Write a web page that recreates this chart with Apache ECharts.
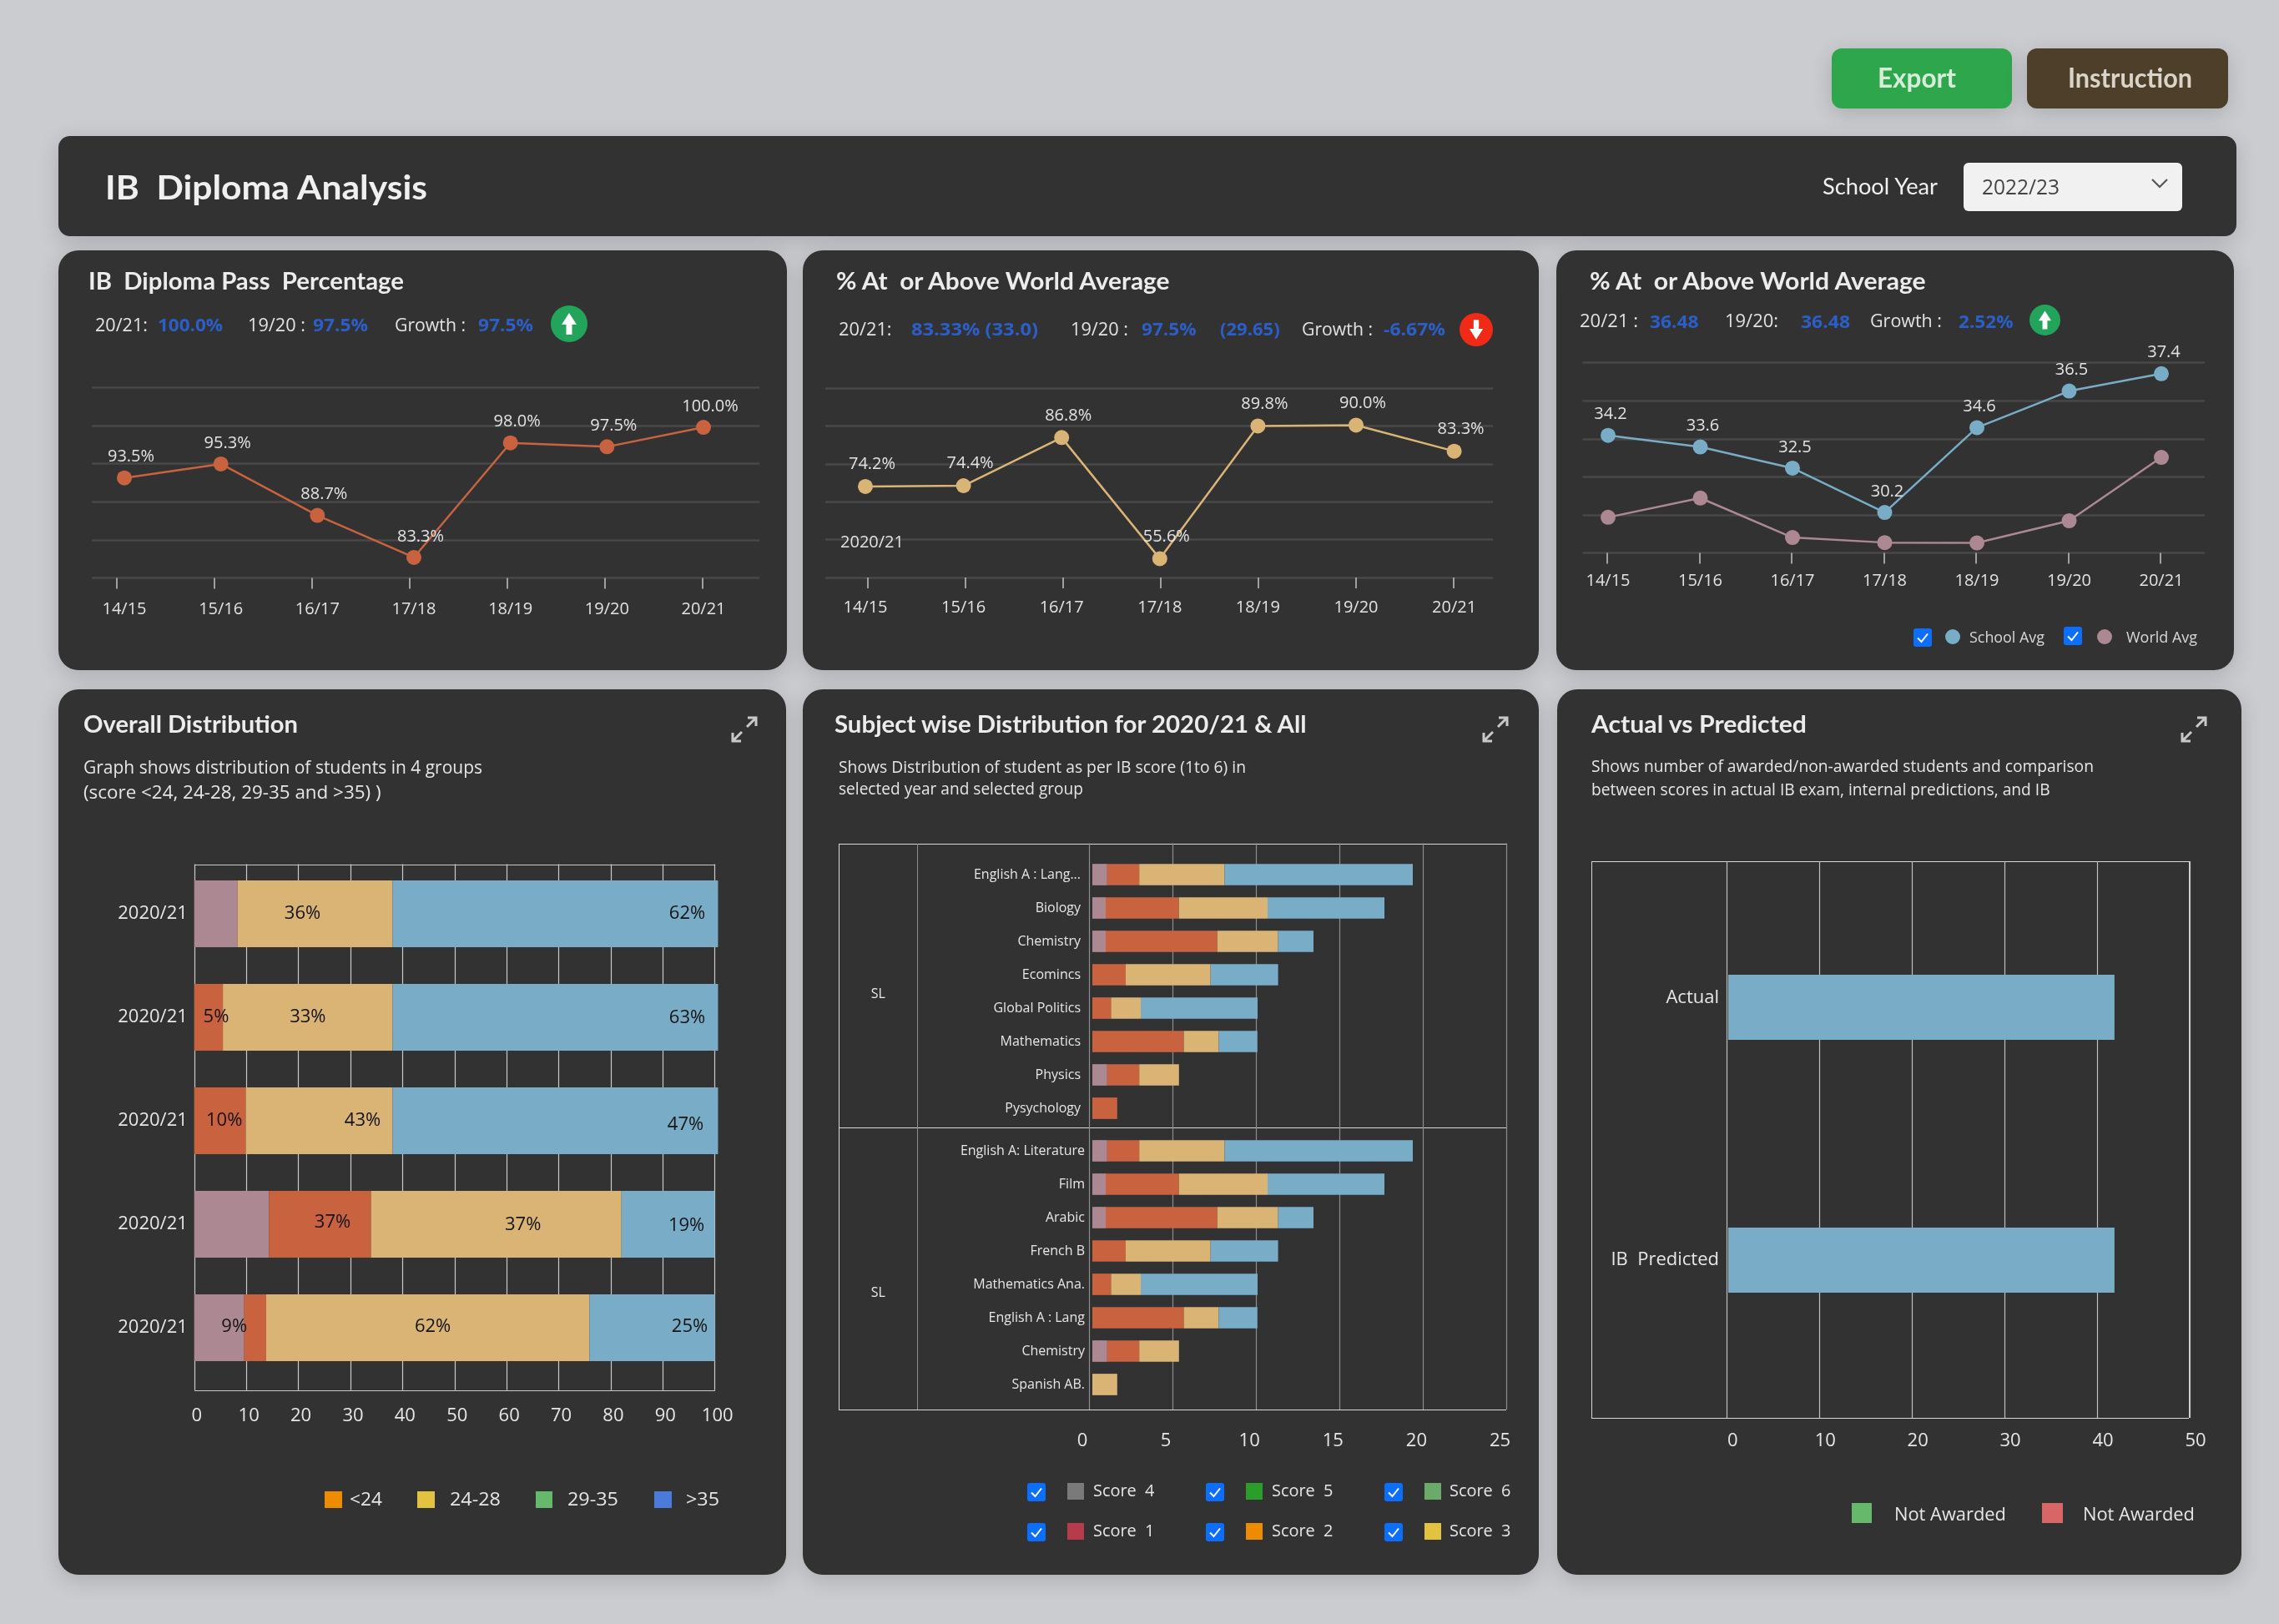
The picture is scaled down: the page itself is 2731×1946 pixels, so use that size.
<!DOCTYPE html>
<html>
<head>
<meta charset="utf-8">
<title>IB Diploma Analysis</title>
<script src="https://cdn.jsdelivr.net/npm/echarts@6/dist/echarts.min.js"></script>
<style>
html,body{margin:0;padding:0;width:2731px;height:1946px;overflow:hidden;background:#cbccd0;font-family:"Open Sans",sans-serif}
.box{position:absolute;background:#323232;box-shadow:0 6px 26px rgba(0,0,0,.16)}
.ln{position:absolute;background:#c4c4c4}
.t{position:absolute;white-space:pre;transform-origin:left center;line-height:1}
#chart{position:absolute;left:0;top:0;width:2731px;height:1946px;z-index:5}
svg.ic{position:absolute;overflow:visible}
</style>
</head>
<body>
<div id="chart"></div>
<script>
// ---------- chart values ----------
const yearLabels = ['14/15','15/16','16/17','17/18','18/19','19/20','20/21'];
const passPercent = [93.5,95.3,88.7,83.3,98.0,97.5,100.0];
const worldAvgPercent = [74.2,74.4,86.8,55.6,89.8,90.0,83.3];
const schoolAvg = [34.2,33.6,32.5,30.2,34.6,36.5,37.4];
const worldAvg = [29.95,30.95,28.9,28.64,28.62,29.77,33.06];

const overallYears = ['2020/21','2020/21','2020/21','2020/21','2020/21'];
const below24 = [8.3,0,0,14.35,9.6];
const from24to28 = [0,5.5,9.9,19.6,4.2];
const from29to35 = [29.8,32.6,28.2,48.1,62.1];
const above35 = [62.5,62.5,62.5,17.9,24.1];
const below24Text = ['','','','','9%'];
const from24to28Text = ['','5%','10%','37%',''];
const from29to35Text = ['36%','33%','43%','37%','62%'];
const above35Text = ['62%','63%','47%','19%','25%'];

const subjectsTop = ['English A : Lang...','Biology','Chemistry','Ecomincs','Global Politics','Mathematics','Physics','Pysychology'];
const subjectsBottom = ['English A: Literature','Film','Arabic','French B','Mathematics Ana.','English A : Lang','Chemistry','Spanish AB.'];
const topScoreA = [0.89,0.8,0.8,0,0,0,0.89,0];
const topScoreB = [1.92,4.39,6.69,2.0,1.12,5.48,1.92,1.49];
const topScoreC = [5.11,5.31,3.64,5.08,1.78,2.09,2.38,0];
const topScoreD = [11.28,7.0,2.12,4.05,7.0,2.32,0,0];
const bottomScoreA = [0.89,0.8,0.8,0,0,0,0.89,0];
const bottomScoreB = [1.92,4.39,6.69,2.0,1.12,5.48,1.92,0];
const bottomScoreC = [5.11,5.31,3.64,5.08,1.78,2.09,2.38,1.49];
const bottomScoreD = [11.28,7.0,2.12,4.05,7.0,2.32,0,0];

const actualCategories = ['Actual','IB  Predicted'];
const actualValues = [41.7,41.7];

// ---------- palette and styles ----------
const MAUVE='#ac8892', ORANGE='#c9623f', TAN='#d9b474', BLUE='#79adc7';
const FONT='"Open Sans",sans-serif', TITLEFONT='Lato,"Open Sans",sans-serif';
const grids=[], xAxes=[], yAxes=[], seriesList=[];
function addGrid(g,x,y){grids.push(g);x.gridIndex=grids.length-1;y.gridIndex=grids.length-1;xAxes.push(x);yAxes.push(y);return grids.length-1;}
const hidden=(o)=>Object.assign({show:false},o);

// line chart: light guide lines, a tick ruler and the data plot
function linePanel(c){
  addGrid({left:c.gridX0,top:c.top,width:c.gridX1-c.gridX0,height:c.bottom-c.top},
    hidden({type:'value',min:0,max:1}),
    {type:'value',min:0,max:5,interval:1,axisLabel:{show:false},axisLine:{show:false},axisTick:{show:false},
     splitLine:{show:true,lineStyle:{color:'#484848',width:2.5}}});
  addGrid({left:c.tick0,top:c.bottom-1,width:c.tick6-c.tick0,height:1},
    {type:'category',boundaryGap:false,data:yearLabels,axisLabel:{show:false},axisLine:{show:false},
     axisTick:{show:true,length:13,interval:0,lineStyle:{color:'#a0a0a0',width:2}}},
    hidden({type:'value',min:0,max:1}));
  const g=addGrid({left:c.pt0,top:c.top,width:c.pt6-c.pt0,height:c.bottom-c.top},
    {type:'category',boundaryGap:false,data:yearLabels,axisLine:{show:false},axisTick:{show:false},
     axisLabel:{show:true,interval:0,color:'#e2e2e2',fontSize:20,fontFamily:FONT,margin:c.labelMargin}},
    hidden({type:'value',min:c.yMin,max:c.yMax}));
  c.series.forEach(s=>seriesList.push({
    type:'line',name:s.name,xAxisIndex:g,yAxisIndex:g,data:s.data,symbol:'circle',symbolSize:18,
    lineStyle:{color:s.color,width:2.5},itemStyle:{color:s.color},
    label:{show:!!s.fmt,position:'top',offset:c.labelOffset,color:'#e2e2e2',fontSize:20,fontFamily:FONT,formatter:s.fmt}
  }));
}
linePanel({gridX0:110,gridX1:910,top:464.4,bottom:692.5,tick0:140,tick6:842,pt0:149,pt6:843,yMin:80.67,yMax:105.1,labelOffset:[8,-1],labelMargin:28,
  series:[{name:'Pass %',data:passPercent,color:ORANGE,fmt:p=>p.value.toFixed(1)+'%'}]});
linePanel({gridX0:989,gridX1:1789,top:465,bottom:692,tick0:1040,tick6:1742,pt0:1037,pt6:1742.6,yMin:50.74,yMax:99.57,labelOffset:[8,-2.5],labelMargin:26,
  series:[{name:'% At or Above World Average',data:worldAvgPercent,color:TAN,fmt:p=>p.value.toFixed(1)+'%'}]});
linePanel({gridX0:1896.5,gridX1:2642,top:434.6,bottom:662.6,tick0:1926,tick6:2589,pt0:1927,pt6:2590,yMin:28.1,yMax:37.97,labelOffset:[3,-1],labelMargin:24,
  series:[{name:'School Avg',data:schoolAvg,color:BLUE,fmt:p=>p.value.toFixed(1)},
          {name:'World Avg',data:worldAvg,color:MAUVE}]});

// value-axis frame used by the bar charts
function frame(left,top,width,height,max,interval,fontSize,labelPad,margin,lineColor){
  addGrid({left,top,width,height},
    {type:'value',min:0,max,interval,axisTick:{show:false},axisLine:{show:false},
     splitLine:{show:true,lineStyle:{color:lineColor,width:1.2}},
     axisLabel:{show:true,color:'#e6e6e6',fontSize,fontFamily:FONT,margin,padding:labelPad,showMinLabel:true,showMaxLabel:true}},
    hidden({type:'value',min:0,max:1}));
}
function barGrid(left,top,width,height,max,cats,fontSize,margin,color,weight,extra){
  return addGrid({left,top,width,height},
    hidden({type:'value',min:0,max}),
    {type:'category',inverse:true,data:cats,axisLine:{show:false},axisTick:{show:false},splitLine:{show:false},
     axisLabel:Object.assign({show:true,interval:0,color,fontSize,fontWeight:weight||400,fontFamily:FONT,margin},extra||{})});
}

// Overall distribution
frame(232.8,1035.5,623.9,630.3,100,10,22,[0,0,0,6],20,'#c8c8c8');
const gOverall=barGrid(232.8,1033,623.9,620,100,overallYears,22,8,'#e6e6e6');
const overallNudge={
  below24:[[0,0],[0,0],[0,0],[0,0],[18,-1]],
  from24to28:[[0,0],[9,0],[5,0],[15,-2],[0,0]],
  from29to35:[[-15,0],[0,0],[52,0],[32,1],[6,-1]],
  above35:[[158,0],[158,1],[156,5],[22,2],[45,-1]]
};
function overallSeries(name,vals,texts,nudge,color){
  seriesList.push({type:'bar',name,stack:'overall',xAxisIndex:gOverall,yAxisIndex:gOverall,barWidth:80,clip:false,itemStyle:{color},
    data:vals.map((v,i)=>({value:v,label:{show:!!texts[i],position:'inside',offset:nudge[i],formatter:texts[i],color:'#141414',fontSize:22,fontFamily:FONT}}))});
}
overallSeries('<24',below24,below24Text,overallNudge.below24,MAUVE);
overallSeries('24-28',from24to28,from24to28Text,overallNudge.from24to28,ORANGE);
overallSeries('29-35',from29to35,from29to35Text,overallNudge.from29to35,TAN);
overallSeries('>35',above35,above35Text,overallNudge.above35,BLUE);

// Subject wise distribution
frame(1305,1010.6,500.5,678.4,25,5,22,[0,16,0,0],27,'#8e8e8e');
function subjectBlock(top,cats,margin,a,b,c,d,stack){
  const g=barGrid(1309,top,500,320,25,cats,16,margin,'#e6e6e6',500);
  [[a,MAUVE,'Score A'],[b,ORANGE,'Score B'],[c,TAN,'Score C'],[d,BLUE,'Score D']].forEach(([vals,color,name])=>{
    seriesList.push({type:'bar',name,stack,xAxisIndex:g,yAxisIndex:g,barWidth:25.7,itemStyle:{color},data:vals});
  });
}
subjectBlock(1028,subjectsTop,14,topScoreA,topScoreB,topScoreC,topScoreD,'top');
subjectBlock(1359,subjectsBottom,9,bottomScoreA,bottomScoreB,bottomScoreC,bottomScoreD,'bottom');

// Actual vs Predicted
frame(2069.3,1032,554.7,667,50,10,22,[0,0,0,14],17,'#c0c0c0');
const gActual=barGrid(2071,1055.5,555,606,50,actualCategories,22,11,'#e6e6e6',400,{
  formatter:(v,i)=>i===0?'{raised|'+v+'}':'{plain|'+v+'}',
  rich:{raised:{fontSize:22,fontFamily:FONT,color:'#e6e6e6',padding:[0,0,22,0]},plain:{fontSize:22,fontFamily:FONT,color:'#e6e6e6'}}
});
seriesList.push({type:'bar',name:'Awarded',xAxisIndex:gActual,yAxisIndex:gActual,barWidth:78,itemStyle:{color:BLUE},data:actualValues});

const chart=echarts.init(document.getElementById('chart'),null,{width:2731,height:1946});
chart.setOption({animation:false,tooltip:{show:false},grid:grids,xAxis:xAxes,yAxis:yAxes,series:seriesList});

// ---------- page furniture ----------
function box(x0,y0,x1,y1,r,bg,shadow){
  const d=document.createElement('div');d.className='box';
  d.style.cssText+=`left:${x0}px;top:${y0}px;width:${x1-x0}px;height:${y1-y0}px;border-radius:${r}px;`+(bg?`background:${bg};`:'')+(shadow===false?'box-shadow:none;':'');
  document.body.appendChild(d);return d;
}
function line(x0,y0,x1,y1,color){
  const d=document.createElement('div');d.className='ln';
  const hor=y0===y1;
  d.style.cssText+=`left:${x0}px;top:${y0}px;width:${hor?x1-x0:1.2}px;height:${hor?1.2:y1-y0}px;`+(color?`background:${color};`:'');
  d.style.zIndex=1;
  document.body.appendChild(d);
}
function T(x,y,str,o){
  o=o||{};
  const d=document.createElement('span');d.className='t';d.textContent=str;
  d.style.fontSize=(o.size||20)+'px';d.style.color=o.color||'#e8e8e8';d.style.fontWeight=o.weight||400;
  d.style.fontFamily=o.family||FONT;
  document.body.appendChild(d);
  const nat=d.getBoundingClientRect().width, h=d.getBoundingClientRect().height;
  const w=o.w||nat, sx=w/nat;
  const left=o.center?x-w/2:x;
  d.style.left=left+'px';d.style.top=(y-h/2)+'px';d.style.transform=`scaleX(${sx})`;
  d.style.zIndex=6;
}
function svg(x,y,w,h,inner,vb){
  const s=document.createElementNS('http://www.w3.org/2000/svg','svg');
  s.setAttribute('class','ic');s.setAttribute('width',w);s.setAttribute('height',h);s.setAttribute('viewBox',vb||`0 0 ${w} ${h}`);
  s.style.left=x+'px';s.style.top=y+'px';s.style.zIndex=6;s.innerHTML=inner;document.body.appendChild(s);
}
function growthIcon(cx,cy,r,color,up){
  const a=up?'M0,-13 L-9,1 L-3.5,1 L-3.5,13 L3.5,13 L3.5,1 L9,1 Z':'M0,13 L-9,-1 L-3.5,-1 L-3.5,-13 L3.5,-13 L3.5,-1 L9,-1 Z';
  svg(cx-r,cy-r,2*r,2*r,`<circle cx="0" cy="0" r="22" fill="${color}"/><path d="${a}" fill="#fff"/>`,'-22 -22 44 44');
}
function expandIcon(cx,cy){
  svg(cx-16,cy-16,32,32,'<g fill="none" stroke="#c9c9c9" stroke-width="3"><path d="M19,13 L30,2 M20,2 L30,2 L30,12"/><path d="M13,19 L2,30 M2,20 L2,30 L12,30"/></g>');
}
function checkbox(x,y){
  svg(x,y,22,22,'<rect width="22" height="22" rx="3" fill="#0b6efd"/><path d="M5,11.5 L9.5,16 L17,6.5" fill="none" stroke="#fff" stroke-width="2"/>');
}
function swatch(x,y,w,h,color){box(x,y,x+w,y+h,0,color,false);}

// panels
box(70,163,2680,283,14);
box(70,300,943,803,24);box(962,300,1844,803,24);box(1865,300,2677,803,24);
box(70,826,942,1887,24);box(962,826,1844,1887,24);box(1866,826,2686,1887,24);
box(2195,58,2411,130,12,'#2ea64b');box(2429,58,2670,130,12,'#4d3f2a');
box(2353,195,2615,253,6,'#f1f1f1',false);
svg(2578,214,20,12,'<path d="M1,1 L10,10 L19,1" fill="none" stroke="#555" stroke-width="2.2"/>');

// header
T(2297,92,'Export',{size:33,weight:700,family:TITLEFONT,color:'#d6edd9',w:94,center:true});
T(2552,92,'Instruction',{size:33,weight:700,family:TITLEFONT,color:'#d8d4c9',w:149,center:true});
T(126,224,'IB  Diploma Analysis',{size:40,weight:700,family:TITLEFONT,color:'#f0f0f0',w:386});
T(2184,223,'School Year',{size:26,family:TITLEFONT,color:'#f0f0f0',w:138});
T(2375,223,'2022/23',{size:26,color:'#444',w:93});

const TITLE={size:29,weight:700,family:TITLEFONT,color:'#ececec'};
const STAT={size:22,color:'#e2e2e2'}, VAL={size:22,weight:700,color:'#2b5fc7'};
const st=(x,y,s,w)=>T(x,y,s,Object.assign({},STAT,{w}));
const va=(x,y,s,w)=>T(x,y,s,Object.assign({},VAL,{w}));

// panel A
T(106,335,'IB  Diploma Pass  Percentage',Object.assign({},TITLE,{w:378}));
st(113.6,387.5,'20/21:',63);va(189,387.5,'100.0%',78);st(297,387.5,'19/20 :',69);va(375,387.5,'97.5%',66);st(473,387.5,'Growth :',85);va(573,387.5,'97.5%',66);
growthIcon(682,388,22,'#22a55b',true);

// panel B
T(1001.5,335,'% At  or Above World Average',Object.assign({},TITLE,{w:399.5}));
st(1004.5,392.5,'20/21:',63.6);va(1092,392.5,'83.33% (33.0)',152);st(1283,392.5,'19/20 :',69);va(1367.5,392.5,'97.5%',65.5);va(1462,392.5,'(29.65)',71.6);st(1560,392.5,'Growth :',85);va(1658,392.5,'-6.67%',74);
growthIcon(1769,394.6,20,'#f02a17',false);
T(1044.5,649,'2020/21',{size:20,color:'#e2e2e2',w:76,center:true});

// panel C
T(1905,335,'% At  or Above World Average',Object.assign({},TITLE,{w:402.6}));
st(1893,382.5,'20/21 :',70);va(1977,384,'36.48',58.6);st(2067,382.5,'19/20:',64);va(2158,384,'36.48',59);st(2241,382.5,'Growth :',86);va(2347,384,'2.52%',65.6);
growthIcon(2450.6,383,18.5,'#22a55b',true);
checkbox(2293,753);svg(2331,754,18,18,`<circle cx="9" cy="9" r="9" fill="${BLUE}"/>`);T(2360,763,'School Avg',{size:18,color:'#d8d8d8',w:90});
checkbox(2473,751);svg(2513,754,18,18,`<circle cx="9" cy="9" r="9" fill="${MAUVE}"/>`);T(2548,763,'World Avg',{size:18,color:'#d8d8d8',w:85});

// panel D
T(100,866,'Overall Distribution',Object.assign({},TITLE,{w:257}));
expandIcon(892,873.5);
T(100,919.4,'Graph shows distribution of students in 4 groups',{size:21,color:'#e6e6e6',w:478});
T(100,949.3,'(score <24, 24-28, 29-35 and >35) )',{size:21,color:'#e6e6e6',w:356.6});
line(232.8,1035.5,857,1035.5,'#c8c8c8');line(232.8,1665.8,857,1665.8,'#c8c8c8');
[[389,'#ee8c00','<24',419,39],[500,'#e2c33f','24-28',539,61],[641.5,'#66b96a','29-35',680,61],[784,'#4a7bdb','>35',822,40]].forEach(([sx,c,s,tx,w])=>{
  swatch(sx,1787,20.5,20,c);T(tx,1795,s,{size:22,color:'#e6e6e6',w});
});

// panel E
T(1000,866.4,'Subject wise Distribution for 2020/21 & All',Object.assign({},TITLE,{w:565.6}));
expandIcon(1792,873.5);
T(1005,918.5,'Shows Distribution of student as per IB score (1to 6) in',{size:20,color:'#e6e6e6',w:488});
T(1005,945,'selected year and selected group',{size:20,color:'#e6e6e6',w:293});
line(1004.8,1010.6,1805.5,1010.6,'#d8d8d8');line(1004.8,1351,1805.5,1351,'#d8d8d8');line(1004.8,1689,1805.5,1689,'#d8d8d8');
line(1004.8,1010.6,1004.8,1689,'#d8d8d8');line(1805,1010.6,1805,1689,'#d8d8d8');line(1099,1010.6,1099,1689,'#8e8e8e');
T(1052.4,1189.5,'SL',{size:16,weight:500,center:true});T(1052.4,1547.8,'SL',{size:16,weight:500,center:true});
[[1231,1279,1310,'#7a7a7a','Score  4',1786,1777],[1445,1493,1524,'#2a9d2a','Score  5',1786,1777],[1659,1707,1737,'#6aab6a','Score  6',1786,1777],
 [1231,1279,1310,'#b83b4b','Score  1',1834.4,1825],[1445,1493,1524,'#ee8c00','Score  2',1834.4,1825],[1659,1707,1737,'#e2c33f','Score  3',1834.4,1825]].forEach(([cb,sq,tx,c,s,y,ty])=>{
  checkbox(cb,ty);swatch(sq,ty,20,20,c);T(tx,y,s,{size:20,color:'#e6e6e6',w:73.5});
});

// panel F
T(1907,866,'Actual vs Predicted',Object.assign({},TITLE,{w:258}));
expandIcon(2629.4,873.5);
T(1907,918,'Shows number of awarded/non-awarded students and comparison',{size:20,color:'#e6e6e6',w:602});
T(1907,945.8,'between scores in actual IB exam, internal predictions, and IB',{size:20,color:'#e6e6e6',w:549.6});
line(1907,1032,2623,1032,'#d8d8d8');line(1907,1699,2623,1699,'#d8d8d8');line(1907,1032,1907,1699,'#d8d8d8');line(2623,1032,2623,1699,'#d8d8d8');
swatch(2218.6,1800.6,24.5,24.5,'#66b96a');T(2270,1812.5,'Not Awarded',{size:22,color:'#e6e6e6',w:134});
swatch(2447,1800.6,24.5,24.5,'#d96666');T(2496,1812.5,'Not Awarded',{size:22,color:'#e6e6e6',w:134});
</script>
</body>
</html>
